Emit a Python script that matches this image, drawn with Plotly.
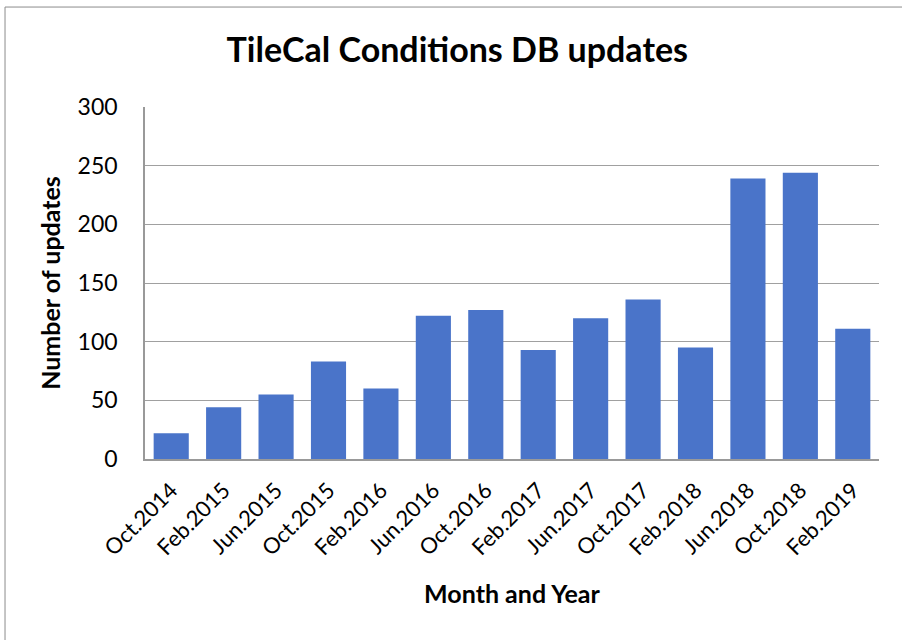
import plotly.graph_objects as go

months = ["Oct.2014", "Feb.2015", "Jun.2015", "Oct.2015", "Feb.2016", "Jun.2016",
          "Oct.2016", "Feb.2017", "Jun.2017", "Oct.2017", "Feb.2018", "Jun.2018",
          "Oct.2018", "Feb.2019"]
updates = [22, 44, 55, 83, 60, 122, 127, 93, 120, 136, 95, 239, 244, 111]
y_ticks = [0, 50, 100, 150, 200, 250, 300]

FONT = "Lato"

fig = go.Figure(go.Bar(x=months, y=updates, marker=dict(color="#4a74c9", line=dict(width=0))))

fig.update_layout(
    width=902, height=640,
    margin=dict(l=145, r=23, t=107, b=181),
    paper_bgcolor="white", plot_bgcolor="white",
    bargap=0.33,
    showlegend=False,
    font=dict(family=FONT, color="black"),
    title=dict(text="<b>TileCal Conditions DB updates</b>", x=0.507, xref="container",
               y=1 - 50 / 640, yref="container", xanchor="center", yanchor="middle",
               font=dict(size=34, family=FONT, color="black")),
    xaxis=dict(
        title=dict(text="<b>Month and Year</b>", font=dict(size=25), standoff=26),
        tickangle=-45, tickfont=dict(size=22), ticklabelstandoff=8,
        showline=True, linecolor="#999999", linewidth=1.5,
        ticks="", showgrid=False,
    ),
    yaxis=dict(
        title=dict(text="<b>Number of updates</b>", font=dict(size=25), standoff=10),
        range=[0, 300], tickvals=y_ticks, tickfont=dict(size=23),
        showgrid=True, gridcolor="#a0a0a0", gridwidth=1,
        showline=True, linecolor="#999999", linewidth=1.5,
        zeroline=False, ticks="", ticklabelstandoff=21,
    ),
    shapes=[dict(type="rect", xref="paper", yref="paper",
                 x0=-0.1907, x1=1.035, y0=-0.528, y1=1.284,
                 line=dict(color="#8c8c8c", width=1), fillcolor="rgba(0,0,0,0)")],
)

fig.write_html("out.html")
